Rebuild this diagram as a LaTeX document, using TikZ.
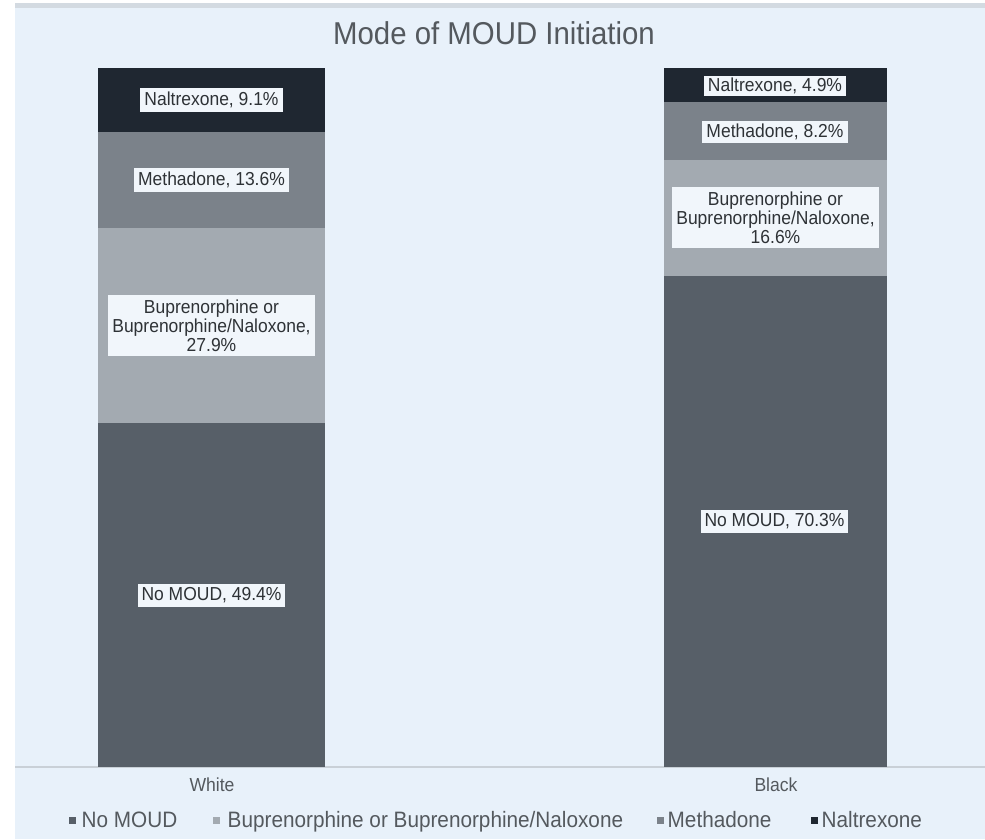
\documentclass[tikz,border=0pt]{standalone}
\usepackage{fontspec}
\setmainfont[FakeStretch=0.93]{Liberation Sans}

% chart palette
\definecolor{bgblue}{HTML}{E8F1FA}
\definecolor{topband}{HTML}{D3DAE1}
\definecolor{axisgray}{HTML}{C9D0D7}
\definecolor{cNone}{HTML}{575F68}
\definecolor{cBup}{HTML}{A3AAB1}
\definecolor{cMeth}{HTML}{7B828A}
\definecolor{cNal}{HTML}{1F2731}
\definecolor{lblfill}{HTML}{F1F6FB}
\definecolor{txtdark}{HTML}{2E3236}
\definecolor{txtgray}{HTML}{54595E}

\begin{document}
\begin{tikzpicture}[x=1pt,y=-1pt,
  lbl/.style={fill=lblfill, text=txtdark, align=center, inner xsep=4pt, inner ysep=3.5pt,
              font=\fontsize{18.8}{19}\selectfont},
  cat/.style={text=txtgray, inner sep=0pt, font=\fontsize{18.9}{20}\selectfont},
  legtext/.style={text=txtgray, inner sep=0pt, anchor=base west, font=\fontsize{22.3}{24}\selectfont},
  legmark/.style={minimum size=7pt, inner sep=0pt},
  charttitle/.style={text=txtgray, inner sep=0pt, font=\fontsize{31.6}{34}\selectfont}]

\useasboundingbox (0,0) rectangle (985,839);
\fill[white] (0,0) rectangle (985,839);
\fill[bgblue] (15,3) rectangle (985,839);
\fill[topband] (15,3) rectangle (985,7.5);

% category axis
\draw[axisgray, line width=1.2pt] (15,767) -- (985,767);

% stacked bar: White
\fill[cNone] (98,423) rectangle (325,767);
\fill[cBup]  (98,228) rectangle (325,423);
\fill[cMeth] (98,132) rectangle (325,228);
\fill[cNal]  (98,68)  rectangle (325,132);

% stacked bar: Black
\fill[cNone] (664,276) rectangle (887,767);
\fill[cBup]  (664,160) rectangle (887,276);
\fill[cMeth] (664,102) rectangle (887,160);
\fill[cNal]  (664,68)  rectangle (887,102);

% data labels
\node[lbl] (wNal)  at (211.5,100)   {Naltrexone, 9.1\%};
\node[lbl] (wMeth) at (211.5,180)   {Methadone, 13.6\%};
\node[lbl, inner ysep=4.5pt] (wBup) at (211.5,325.5) {Buprenorphine or\\Buprenorphine/Naloxone,\\27.9\%};
\node[lbl] (wNone) at (211.5,595.5) {No MOUD, 49.4\%};

\node[lbl, inner ysep=1.5pt] (bNal)  at (775,86)  {Naltrexone, 4.9\%};
\node[lbl, inner ysep=2.5pt] (bMeth) at (775,132) {Methadone, 8.2\%};
\node[lbl, inner ysep=4.5pt] (bBup)  at (775.5,217.5) {Buprenorphine or\\Buprenorphine/Naloxone,\\16.6\%};
\node[lbl] (bNone) at (774.5,521.5) {No MOUD, 70.3\%};

% title and category names
\node[charttitle, anchor=base] (title) at (494,44) {Mode of MOUD Initiation};
\node[cat, anchor=base] (catW) at (212,791) {White};
\node[cat, anchor=base] (catB) at (776,791) {Black};

% legend
\node[legmark, fill=cNone] (mNone) at (72.5,820) {};
\node[legtext] (tNone) at (81.5,827) {No MOUD};
\node[legmark, fill=cBup] (mBup) at (216.5,820) {};
\node[legtext] (tBup) at (227.5,827) {Buprenorphine or Buprenorphine/Naloxone};
\node[legmark, fill=cMeth] (mMeth) at (660.5,820) {};
\node[legtext] (tMeth) at (667.5,827) {Methadone};
\node[legmark, fill=cNal] (mNal) at (814.5,820) {};
\node[legtext] (tNal) at (821.5,827) {Naltrexone};
\end{tikzpicture}
\end{document}
